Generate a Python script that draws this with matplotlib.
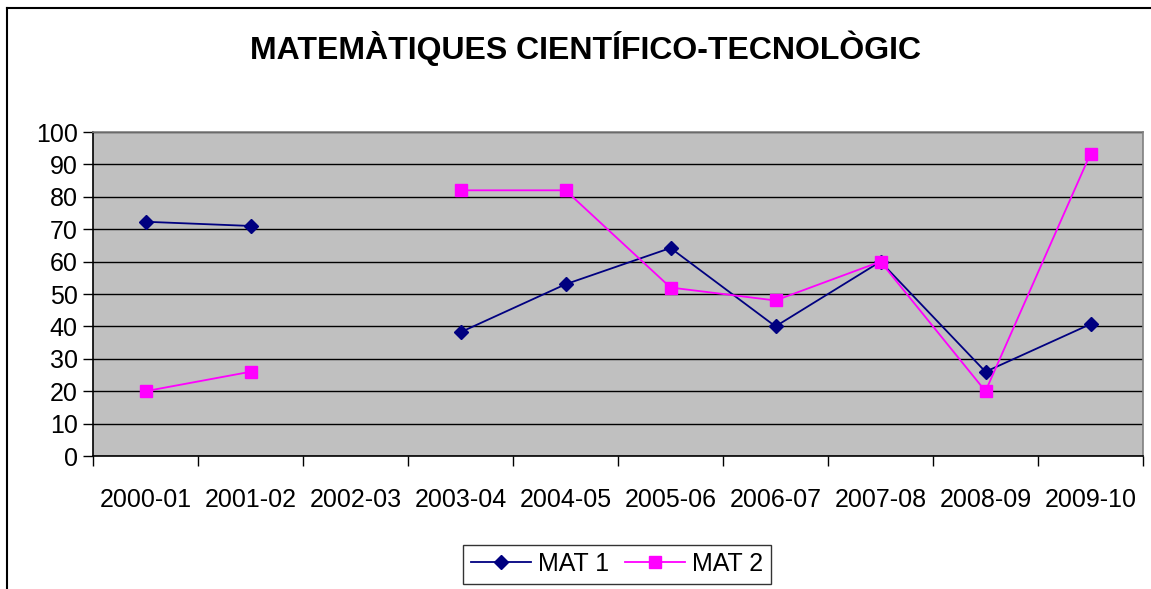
import matplotlib
matplotlib.use("Agg")
import matplotlib.pyplot as plt
from matplotlib.lines import Line2D
import numpy as np

plt.rcParams['font.family'] = ['Liberation Sans', 'DejaVu Sans']

cursos = ['2000-01', '2001-02', '2002-03', '2003-04', '2004-05',
          '2005-06', '2006-07', '2007-08', '2008-09', '2009-10']
mat1 = [72.3, 71, np.nan, 38.2, 53, 64.2, 40, 60, 26, 40.7]
mat2 = [20, 26, np.nan, 82, 82, 52, 48, 60, 20, 93.3]

W, H = 1151, 589
fig = plt.figure(figsize=(W / 100, H / 100), dpi=100)
ax = fig.add_axes([93 / W, 1 - 456 / H, 1050 / W, 324 / H])
ax.set_facecolor('#c0c0c0')

x = np.arange(len(cursos))
ax.plot(x, mat1, color='#000080', lw=1.3, marker='D', ms=7.5, label='MAT 1')
ax.plot(x, mat2, color='#ff00ff', lw=1.3, marker='s', ms=9, label='MAT 2')

ax.set_xlim(-0.5, len(cursos) - 0.5)
ax.set_ylim(0, 100)
ax.set_yticks(range(0, 101, 10))
ax.yaxis.grid(True, color='black', lw=1.0)
ax.set_axisbelow(True)

ax.set_xticks(np.arange(-0.5, len(cursos), 1.0))
ax.set_xticklabels([])
ax.set_xticks(x, minor=True)
ax.set_xticklabels(cursos, minor=True)
ax.tick_params(axis='x', which='major', direction='out', length=7, width=1)
ax.tick_params(axis='x', which='minor', length=0, pad=23, labelsize=18)
ax.tick_params(axis='y', direction='out', length=7, width=1, labelsize=18, pad=4)

for s in ['left', 'bottom']:
    ax.spines[s].set_color('black')
for s in ['top', 'right']:
    ax.spines[s].set_color('#808080')
for s in ax.spines.values():
    s.set_linewidth(1.2)

fig.text(585 / W, 1 - 48 / H, 'MATEMÀTIQUES CIENTÍFICO-TECNOLÒGIC',
         ha='center', va='center', fontsize=23, fontweight='bold')

leg = fig.legend(loc='center', bbox_to_anchor=(617 / W, 1 - 564 / H),
                 ncol=2, fontsize=18, frameon=True, fancybox=False,
                 edgecolor='black', handlelength=2.4, columnspacing=0.6,
                 handletextpad=0.3, borderpad=0.3)
leg.get_frame().set_linewidth(1.0)

# outer chart border
fig.add_artist(Line2D([7 / W, 7 / W], [0, 1 - 8 / H], color='black', lw=1.5))
fig.add_artist(Line2D([7 / W, 1], [1 - 8 / H, 1 - 8 / H], color='black', lw=1.5))

fig.savefig('out.png', dpi=100)
